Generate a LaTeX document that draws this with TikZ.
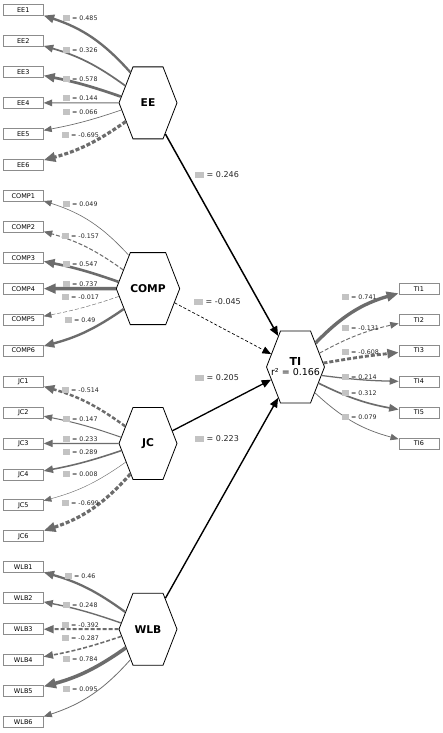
\documentclass[tikz,border=0pt]{standalone}
\usepackage{fontspec}
\setmainfont{DejaVu Sans}
\usetikzlibrary{shapes.symbols,arrows.meta}
\definecolor{ldgray}{RGB}{108,108,108}
\definecolor{boxgray}{RGB}{140,140,140}
\definecolor{icongray}{RGB}{195,195,195}
\newcommand{\icS}{{\color{icongray}\rule[-0.2pt]{7pt}{5.5pt}}}
\newcommand{\icL}{{\color{icongray}\rule[-0.2pt]{9pt}{6pt}}}
\begin{document}
\begin{tikzpicture}[x=1pt,y=1pt,
 ind/.style={draw=boxgray, line width=0.8pt, fill=white, minimum width=40pt, minimum height=11pt, inner sep=0pt, font=\fontsize{6.5}{7}\selectfont},
 lat/.style={draw=black, line width=0.8pt, fill=white, signal, signal to=east and west, signal pointer angle=137.5, minimum width=58pt, minimum height=72pt, inner sep=0pt, font=\fontsize{10.7}{12}\selectfont\bfseries},
 ow/.style={draw=ldgray, line width=#1, -{Triangle[length=7pt 1.5,width=5.5pt 1.2]}},
 neg/.style={dash pattern=on 4pt off 2pt},
 olab/.style={anchor=west, inner sep=0pt, text=black!85, font=\fontsize{6.3}{7}\selectfont},
 ilab/.style={anchor=west, inner sep=0pt, text=black!85, font=\fontsize{8}{9}\selectfont},
 iw/.style={draw=black, line width=#1, -{Triangle[length=8pt 1,width=6.5pt 1]}},
]
\fill[white] (0,0) rectangle (443,-733);
\useasboundingbox (0,0) rectangle (443,-733);

% indicator boxes (left)
\foreach \n/\t/\yy in {EEa/EE1/10.0, EEb/EE2/40.96, EEc/EE3/71.92, EEd/EE4/102.88, EEe/EE5/133.84, EEf/EE6/164.8,
  COa/COMP1/195.76, COb/COMP2/226.72, COc/COMP3/257.68, COd/COMP4/288.64, COe/COMP5/319.6, COf/COMP6/350.56,
  JCa/JC1/381.52, JCb/JC2/412.48, JCc/JC3/443.44, JCd/JC4/474.4, JCe/JC5/505.36, JCf/JC6/536.32,
  WLa/WLB1/567.28, WLb/WLB2/598.24, WLc/WLB3/629.2, WLd/WLB4/660.16, WLe/WLB5/691.12, WLf/WLB6/722.08}
  \node[ind] (\n) at (23.3,-\yy) {\t};
% indicator boxes (right)
\foreach \n/\t/\yy in {TIa/TI1/288.64, TIb/TI2/319.6, TIc/TI3/350.56, TId/TI4/381.52, TIe/TI5/412.48, TIf/TI6/443.44}
  \node[ind] (\n) at (419,-\yy) {\t};

% latent variables
\node[lat] (EE) at (148,-102.88) {EE};
\node[lat] (COMP) at (148,-288.64) {COMP};
\node[lat] (JC) at (148,-443.44) {JC};
\node[lat] (WLB) at (148,-629.2) {WLB};
\node[lat] (TI) at (295.5,-367) {};
\node[align=center, inner sep=0pt] (TIlab) at (295.5,-366.5) {{\fontsize{11}{11}\selectfont\bfseries TI}\\[-1.5pt]{\fontsize{9.5}{10}\selectfont r² = 0.166}};

% outer model EE
\draw[ow=2.34pt] (EE.120) to[bend right=15] (EEa);
\draw[ow=1.70pt] (EE.143) to[bend right=10] (EEb);
\draw[ow=2.71pt] (EE.167) to[bend right=4] (EEc);
\draw[ow=0.98pt] (EE.180) -- (EEd);
\draw[ow=0.66pt] (EE.195) to[bend left=4] (EEe);
\draw[ow=3.18pt,neg] (EE.220) to[bend left=10] (EEf);
% COMP
\draw[ow=0.60pt] (COMP.120) to[bend right=15] (COa);
\draw[ow=1.03pt,neg] (COMP.143) to[bend right=10] (COb);
\draw[ow=2.59pt] (COMP.167) to[bend right=4] (COc);
\draw[ow=3.35pt] (COMP.180) -- (COd);
\draw[ow=0.47pt,neg] (COMP.195) to[bend left=4] (COe);
\draw[ow=2.36pt] (COMP.220) to[bend left=10] (COf);
% JC
\draw[ow=2.46pt,neg] (JC.143) to[bend right=10] (JCa);
\draw[ow=0.99pt] (JC.167) to[bend right=4] (JCb);
\draw[ow=1.33pt] (JC.180) -- (JCc);
\draw[ow=1.56pt] (JC.195) to[bend left=4] (JCd);
\draw[ow=0.43pt] (JC.220) to[bend left=10] (JCe);
\draw[ow=3.20pt,neg] (JC.240) to[bend left=15] (JCf);
% WLB
\draw[ow=2.24pt] (WLB.143) to[bend right=10] (WLa);
\draw[ow=1.39pt] (WLB.167) to[bend right=4] (WLb);
\draw[ow=1.97pt,neg] (WLB.180) -- (WLc);
\draw[ow=1.55pt,neg] (WLB.195) to[bend left=4] (WLd);
\draw[ow=3.54pt] (WLB.220) to[bend left=10] (WLe);
\draw[ow=0.78pt] (WLB.240) to[bend left=15] (WLf);
% TI
\draw[ow=3.36pt] (TI.50) to[bend left=15] (TIa);
\draw[ow=0.92pt,neg] (TI.30) to[bend left=8] (TIb);
\draw[ow=2.83pt,neg] (TI.8) to[bend left=2] (TIc);
\draw[ow=1.26pt] (TI.-18) to[bend right=3] (TId);
\draw[ow=1.65pt] (TI.-35) to[bend right=8] (TIe);
\draw[ow=0.72pt] (TI.-53) to[bend right=14] (TIf);

% inner model
\draw[iw=1.48pt] (EE) -- (TI);
\draw[iw=0.68pt,dash pattern=on 3pt off 2pt] (COMP) -- (TI);
\draw[iw=1.32pt] (JC) -- (TI);
\draw[iw=1.39pt] (WLB) -- (TI);

% outer labels
\foreach \xx/\yy/\v in {63/18/0.485, 63/50/0.326, 63/79/0.578, 63/98/0.144, 63/112/0.066, 62/135/-0.695,
  63/204/0.049, 62/236/-0.157, 63/264/0.547, 63/284/0.737, 62/297/-0.017, 65/320/0.49,
  62/390/-0.514, 63/419/0.147, 63/439/0.233, 63/452/0.289, 63/474/0.008, 62/503/-0.699,
  65/576/0.46, 63/605/0.248, 62/625/-0.392, 62/638/-0.287, 63/659/0.784, 63/689/0.095,
  342/297/0.741, 342/328/-0.131, 342/352/-0.608, 342/377/0.214, 342/393/0.312, 342/417/0.079}
  \node[olab] at (\xx,-\yy) {\icS\ = \v};
% inner labels
\node[ilab] (l1) at (195,-175) {\icL\ = 0.246};
\node[ilab] (l2) at (194,-302) {\icL\ = -0.045};
\node[ilab] (l3) at (195,-378) {\icL\ = 0.205};
\node[ilab] (l4) at (195,-439) {\icL\ = 0.223};
\end{tikzpicture}
\end{document}
